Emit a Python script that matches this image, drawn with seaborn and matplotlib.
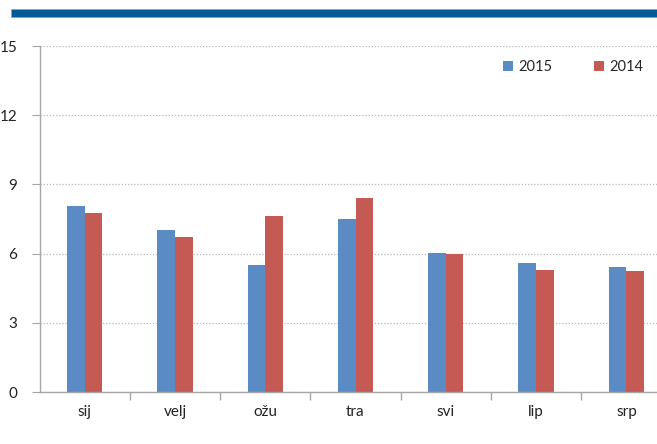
import numpy as np
import pandas as pd
import matplotlib
matplotlib.use("Agg")
import matplotlib.pyplot as plt
from matplotlib.patches import Rectangle
import seaborn as sns

# Podaci (očitano s grafikona)
months = ["sij", "velj", "ožu", "tra", "svi", "lip", "srp"]
values_2015 = [8.08, 7.03, 5.49, 7.48, 6.01, 5.59, 5.40]
values_2014 = [7.78, 6.73, 7.62, 8.40, 5.98, 5.31, 5.23]
series = ["2015", "2014"]
y_ticks = [0, 3, 6, 9, 12, 15]

df = pd.DataFrame({
    "mjesec": months * 2,
    "godina": [series[0]] * len(months) + [series[1]] * len(months),
    "vrijednost": values_2015 + values_2014,
})

sns.set_style("white")
plt.rcParams["font.family"] = ["Lato", "DejaVu Sans"]

fig = plt.figure(figsize=(6.57, 4.44), dpi=100)
ax = fig.add_axes([39.5 / 657, 1 - 392 / 444, 632 / 657, 346 / 444])

sns.barplot(data=df, x="mjesec", y="vrijednost", hue="godina",
            palette={"2015": "#5B8BC4", "2014": "#C55A55"},
            width=0.39, gap=0, saturation=1, ax=ax, legend=True,
            edgecolor="none")

ax.set_xlim(-0.5, len(months) - 0.5)
ax.set_ylim(0, 15)
ax.set_yticks(y_ticks)
ax.set_xlabel("")
ax.set_ylabel("")

# mreža
ax.yaxis.grid(True, linestyle=(0, (1, 1.5)), color="#B8B8B8", linewidth=0.9)
ax.set_axisbelow(True)

for s in ["top", "right"]:
    ax.spines[s].set_visible(False)
for s in ["left", "bottom"]:
    ax.spines[s].set_color("#A6A6A6")
    ax.spines[s].set_linewidth(1.0)

ax.tick_params(axis="y", left=True, length=6, color="#A6A6A6",
               labelsize=11, pad=10, labelcolor="#222222")
ax.tick_params(axis="x", which="major", bottom=False, length=0,
               labelsize=11, pad=9, labelcolor="#222222")
ax.set_xticks(np.arange(0.5, len(months) - 0.5), minor=True)
ax.tick_params(axis="x", which="minor", bottom=True, length=6,
               color="#A6A6A6", width=1.0)

ax.legend(loc="upper left", bbox_to_anchor=(458 / 632, 0.975),
          ncol=2, frameon=False, fontsize=10.5, handlelength=0.65,
          handleheight=0.65, columnspacing=2.9, handletextpad=0.35,
          borderaxespad=0)

# plava traka na vrhu
fig.patches.append(Rectangle((11 / 657, 1 - 17 / 444), 1, 8 / 444,
                             transform=fig.transFigure, facecolor="#005A96",
                             edgecolor="#7FA8CC", linewidth=0.6))

fig.savefig("out.png", dpi=100)
